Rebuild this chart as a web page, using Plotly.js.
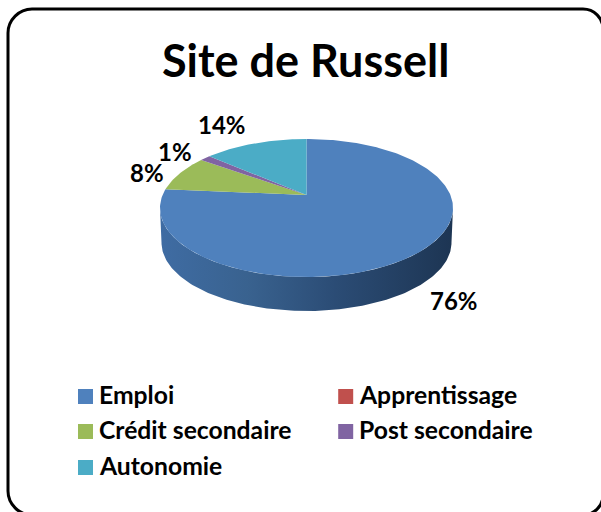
<!DOCTYPE html>
<html>
<head>
<meta charset="utf-8">
<script src="https://cdn.plot.ly/plotly-3.0.1.min.js"></script>
<style>html,body{margin:0;padding:0;background:#fff}#c{width:601px;height:512px}</style>
</head>
<body>
<div id="c"></div>
<script>
var titleText = 'Site de Russell';
var categories = ['Emploi', 'Apprentissage', 'Crédit secondaire', 'Post secondaire', 'Autonomie'];
var values = [76.4, 0, 8.5, 1.4, 13.7];
var colors = ['#4f81bd', '#c0504d', '#9bbb59', '#8064a2', '#4bacc6'];
var labelTexts = ['76%', '', '8%', '1%', '14%'];

// pie placement on the page-sized axes
var CX = 306.5, CY = 195, RX = 143.9, RY = 66.6, TILT = 0.188, DEPTH = 35, SHRINK = 0.99;
function project(a, dy, s) {
  var u = Math.sin(a) * s, v = Math.cos(a) * s, w = 1 + TILT * v;
  return [CX + RX * u / w, CY + dy - RY * v / w];
}
function arc(a0, a1, dy, s) {
  var n = Math.max(2, Math.ceil(Math.abs(a1 - a0) / 0.02)), pts = [];
  for (var i = 0; i <= n; i++) pts.push(project(a0 + (a1 - a0) * i / n, dy, s));
  return pts;
}
var total = values.reduce(function (a, b) { return a + b; }, 0);
var traces = [];

// side wall of the visible front part of the first slice
var firstEnd = values[0] / total * 2 * Math.PI;
var wallStart = Math.PI / 2 + TILT, wallEnd = Math.min(firstEnd, 3 * Math.PI / 2 - TILT);
var front = arc(wallStart, wallEnd, 0, 1);
var back = arc(wallEnd, wallStart, DEPTH, SHRINK);
var wall = front.concat(back);
traces.push({
  x: wall.map(function (p) { return p[0]; }), y: wall.map(function (p) { return p[1]; }),
  mode: 'lines', fill: 'toself', line: {width: 0, color: 'rgba(0,0,0,0)'},
  fillgradient: {type: 'horizontal', colorscale: [[0, '#3f6ca3'], [0.3, '#39628f'], [0.6, '#2b4c75'], [1, '#1d3553']]},
  hoverinfo: 'skip', showlegend: false
});

// top faces of the slices
var cum = 0;
values.forEach(function (val, i) {
  var a0 = cum / total * 2 * Math.PI;
  cum += val;
  var a1 = cum / total * 2 * Math.PI;
  if (val <= 0) return;
  var pts = [[CX, CY]].concat(arc(a0, a1, 0, 1)).concat([[CX, CY]]);
  traces.push({
    x: pts.map(function (p) { return p[0]; }), y: pts.map(function (p) { return p[1]; }),
    mode: 'lines', fill: 'toself', fillcolor: colors[i], line: {width: 0, color: colors[i]},
    name: categories[i], text: labelTexts[i], hoverinfo: 'name+text', showlegend: false
  });
});

var annotations = [];
var boldFont = 'Lato, Carlito, sans-serif';

// legend built as square markers with text
var legendX = [85.5, 345.7, 85.5, 345.7, 85.5];
var legendY = [396.5, 396.5, 431.5, 431.5, 467.5];
categories.forEach(function (c, i) {
  traces.push({
    x: [legendX[i]], y: [legendY[i]], mode: 'markers',
    marker: {symbol: 'square', size: 15, color: colors[i]}, name: c, hoverinfo: 'name', showlegend: false
  });
  annotations.push({x: legendX[i] + 11, y: legendY[i] - 2, xref: 'x', yref: 'y', xanchor: 'left', text: c, showarrow: false,
    font: {family: boldFont, size: 24.7, color: '#000', weight: 700}});
});

var labelX = [453.5, 0, 147, 174.5, 222];
var labelY = [300, 0, 172, 151, 124];
labelTexts.forEach(function (t, i) {
  if (!t) return;
  annotations.push({x: labelX[i], y: labelY[i], xref: 'x', yref: 'y', text: t, showarrow: false,
    font: {family: boldFont, size: 24, color: '#000', weight: 700}});
});
annotations.push({x: 305.5, y: 60, xref: 'x', yref: 'y', text: titleText, showarrow: false,
  font: {family: boldFont, size: 45, color: '#000', weight: 700}});

var layout = {
  width: 601, height: 512, margin: {l: 0, r: 0, t: 0, b: 0},
  paper_bgcolor: '#fff', plot_bgcolor: '#fff', showlegend: false,
  xaxis: {range: [0, 601], visible: false, fixedrange: true},
  yaxis: {range: [512, 0], visible: false, fixedrange: true},
  annotations: annotations,
  shapes: [{type: 'path', xref: 'x', yref: 'y', layer: 'below',
    path: 'M 32 9 L 583 9 C 594 9 603 18 603 29 L 603 495 C 603 506 594 515 583 515 L 32 515 C 19 515 8 504 8 491 L 8 33 C 8 20 19 9 32 9 Z',
    line: {color: '#000', width: 3}, fillcolor: 'rgba(0,0,0,0)'}]
};
Plotly.newPlot('c', traces, layout, {displayModeBar: false, staticPlot: true});
</script>
</body>
</html>
